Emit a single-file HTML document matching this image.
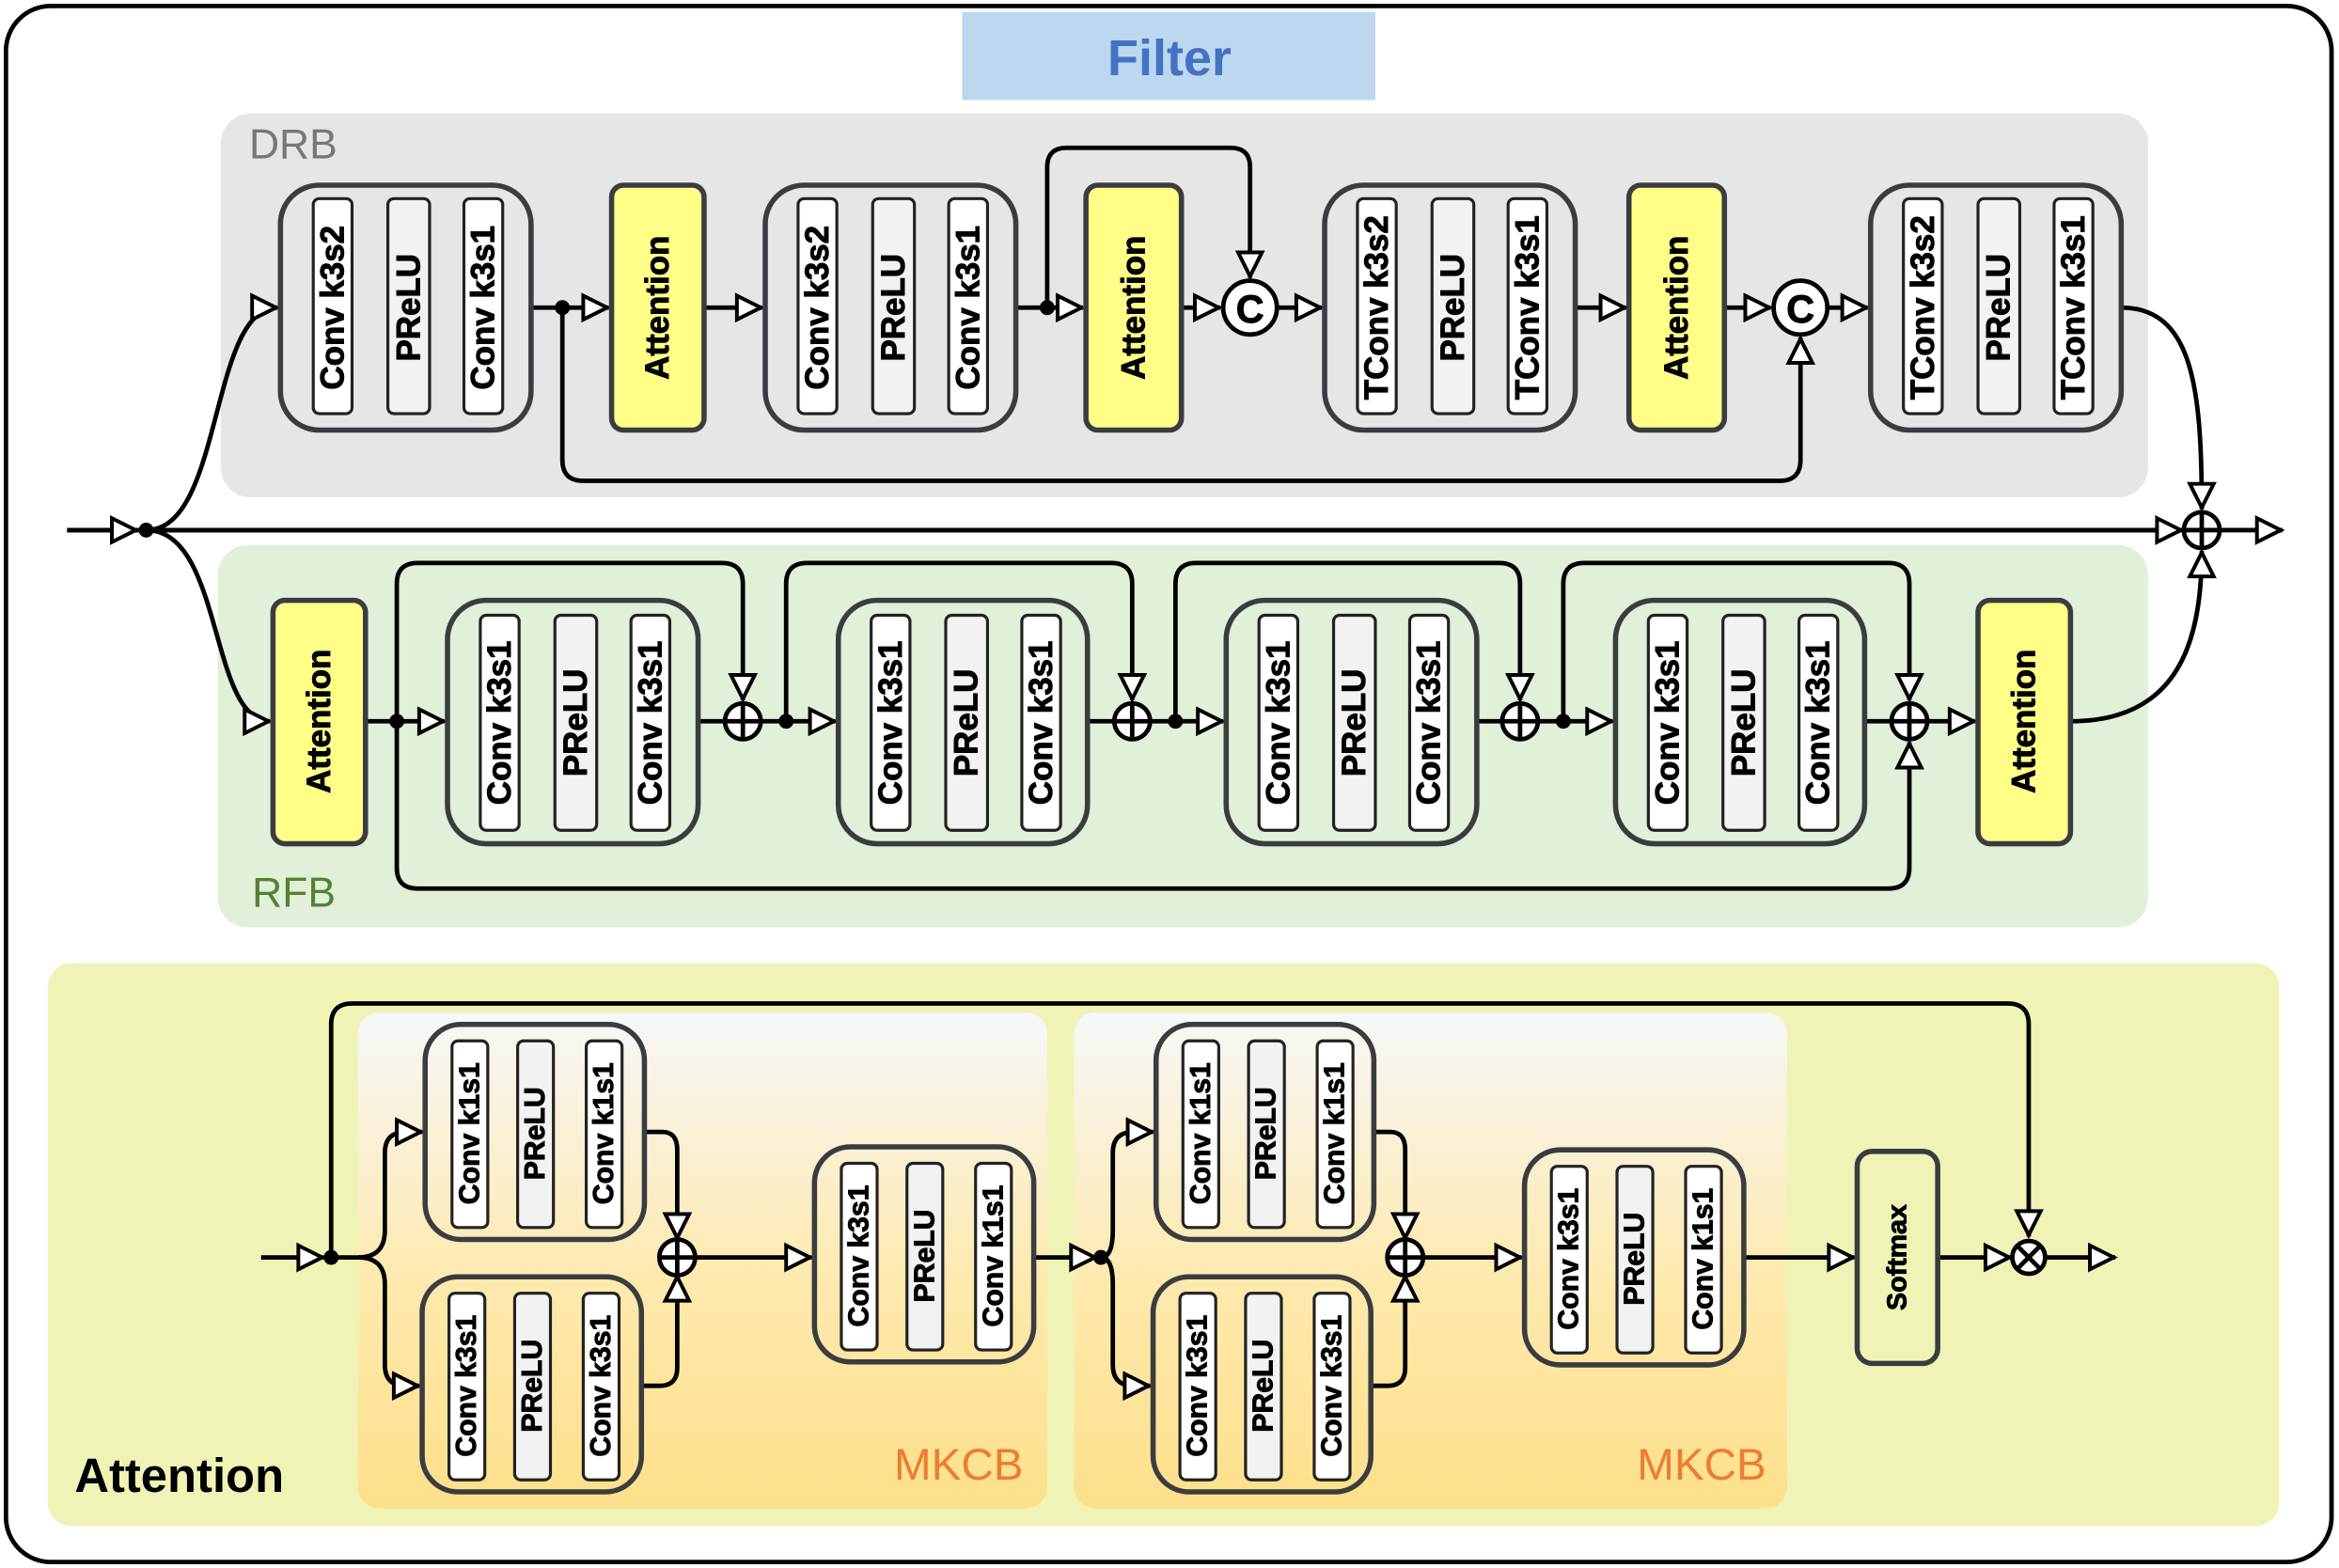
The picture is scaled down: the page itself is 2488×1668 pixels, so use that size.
<!DOCTYPE html>
<html><head><meta charset="utf-8"><style>
html,body{margin:0;padding:0;background:#fff}
svg{display:block}
.t{font-family:"Liberation Sans",sans-serif;font-weight:bold;fill:#000;stroke:#000;stroke-width:0.6;text-anchor:middle;dominant-baseline:central}
.box{fill:none;stroke:#3a3c40;stroke-width:3.5}
.pw{fill:#fff;stroke:#222;stroke-width:2}
.pg{fill:#f2f2f2;stroke:#222;stroke-width:2}
.ln{fill:none;stroke:#000;stroke-width:3}
.ar{fill:none;stroke:#000;stroke-width:3;marker-end:url(#a)}
</style></head><body>
<svg width="2488" height="1668" viewBox="0 0 1568 1050" preserveAspectRatio="none" xmlns="http://www.w3.org/2000/svg">
<defs>
<marker id="a" markerUnits="userSpaceOnUse" markerWidth="22" markerHeight="20" refX="17" refY="8" orient="auto" viewBox="-2 -2 22 20"><path d="M0,0 L16,8 L0,16 Z" fill="#fff" stroke="#000" stroke-width="2.5"/></marker>
<linearGradient id="g" x1="0" y1="0" x2="0" y2="1"><stop offset="0" stop-color="#f6f7f8"/><stop offset="0.55" stop-color="#fee9ad"/><stop offset="1" stop-color="#fde08a"/></linearGradient>
</defs>
<rect x="4" y="4" width="1559" height="1042" rx="30" fill="#fff" stroke="#000" stroke-width="3"/>
<rect x="645" y="8" width="277" height="59" fill="#bdd7ee"/>
<text x="784" y="39" style="font-family:'Liberation Sans',sans-serif;font-size:34px;font-weight:bold;fill:#4472c4;text-anchor:middle" dominant-baseline="central">Filter</text>

<!-- DRB -->
<rect x="148" y="76" width="1292" height="257" rx="20" fill="#e6e6e6"/>
<text x="167" y="97" style="font-family:'Liberation Sans',sans-serif;font-size:28px;fill:#777" dominant-baseline="central">DRB</text>
<!-- RFB -->
<rect x="146" y="365" width="1294" height="256" rx="20" fill="#e2efd9"/>
<text x="169" y="598" style="font-family:'Liberation Sans',sans-serif;font-size:28px;fill:#548235" dominant-baseline="central">RFB</text>
<!-- Attention section -->
<rect x="32" y="645" width="1496" height="377" rx="16" fill="#eff4b6"/>
<text x="50" y="988" style="font-family:'Liberation Sans',sans-serif;font-size:32px;font-weight:bold;fill:#000" dominant-baseline="central">Attention</text>
<rect x="240" y="678" width="462" height="332" rx="14" fill="url(#g)"/>
<rect x="720" y="678" width="478" height="332" rx="14" fill="url(#g)"/>
<text x="686" y="981" style="font-family:'Liberation Sans',sans-serif;font-size:30px;fill:#ed7d31;text-anchor:end" dominant-baseline="central">MKCB</text>
<text x="1184" y="981" style="font-family:'Liberation Sans',sans-serif;font-size:30px;fill:#ed7d31;text-anchor:end" dominant-baseline="central">MKCB</text>

<!-- DRB connectors -->
<path class="ln" d="M45,355 H1460"/>
<path class="ar" d="M45,355 H92"/>
<path class="ar" d="M98,355 H1463"/>
<path class="ar" d="M1488,355 H1530"/>
<circle cx="98" cy="355" r="5"/>
<path class="ar" d="M98,355 C150,355 140,206 186,206"/>
<path class="ar" d="M98,355 C150,355 140,483 181,483"/>
<path class="ar" d="M356,206 H408"/>
<circle cx="377" cy="206" r="5"/>
<path class="ar" d="M472,206 H511"/>
<path class="ar" d="M681,206 H726"/>
<circle cx="702" cy="206" r="5"/>
<path class="ar" d="M702,206 V112 Q702,99 715,99 H825 Q838,99 838,112 V186"/>
<path class="ar" d="M792,206 H818"/>
<path class="ar" d="M856,206 H886"/>
<path class="ar" d="M1056,206 H1090"/>
<path class="ar" d="M1156,206 H1187"/>
<path class="ar" d="M1225,206 H1252"/>
<path class="ar" d="M377,206 V308 Q377,322 391,322 H1193 Q1207,322 1207,308 V226"/>
<path class="ar" d="M1422,206 C1470,206 1476,260 1476,341"/>
<path class="ar" d="M1388,483 C1460,483 1476,430 1476,369"/>
<circle cx="838" cy="206" r="18" fill="#fff" stroke="#000" stroke-width="3"/>
<text x="838" y="207" class="t" style="font-size:26px">C</text>
<circle cx="1207" cy="206" r="18" fill="#fff" stroke="#000" stroke-width="3"/>
<text x="1207" y="207" class="t" style="font-size:26px">C</text>
<circle cx="1476" cy="355" r="12" fill="#fff" stroke="#000" stroke-width="3"/>
<path class="ln" d="M1464,355 H1488 M1476,343 V367"/>

<!-- DRB blocks -->
<rect x="410" y="124" width="62" height="164" rx="8" fill="#ffff88" stroke="#3a3c40" stroke-width="3.5"/>
<text class="t" style="font-size:22px" transform="translate(441,206) rotate(-90)">Attention</text>
<rect x="728" y="124" width="64" height="164" rx="8" fill="#ffff88" stroke="#3a3c40" stroke-width="3.5"/>
<text class="t" style="font-size:22px" transform="translate(760,206) rotate(-90)">Attention</text>
<rect x="1092" y="124" width="64" height="164" rx="8" fill="#ffff88" stroke="#3a3c40" stroke-width="3.5"/>
<text class="t" style="font-size:22px" transform="translate(1124,206) rotate(-90)">Attention</text>

<g style="font-size:22px">
<rect class="box" x="188" y="124" width="168" height="164" rx="26"/>
<rect class="pw" x="210" y="133" width="26" height="144" rx="4"/><rect class="pg" x="260" y="133" width="28" height="144" rx="4"/><rect class="pw" x="311" y="133" width="26" height="144" rx="4"/>
<text class="t" transform="translate(223,206) rotate(-90)">Conv k3s2</text><text class="t" transform="translate(274,206) rotate(-90)">PReLU</text><text class="t" transform="translate(324,206) rotate(-90)">Conv k3s1</text>

<rect class="box" x="513" y="124" width="168" height="164" rx="26"/>
<rect class="pw" x="535" y="133" width="26" height="144" rx="4"/><rect class="pg" x="585" y="133" width="28" height="144" rx="4"/><rect class="pw" x="636" y="133" width="26" height="144" rx="4"/>
<text class="t" transform="translate(548,206) rotate(-90)">Conv k3s2</text><text class="t" transform="translate(599,206) rotate(-90)">PReLU</text><text class="t" transform="translate(649,206) rotate(-90)">Conv k3s1</text>

<rect class="box" x="888" y="124" width="168" height="164" rx="26"/>
<rect class="pw" x="910" y="133" width="26" height="144" rx="4"/><rect class="pg" x="960" y="133" width="28" height="144" rx="4"/><rect class="pw" x="1011" y="133" width="26" height="144" rx="4"/>
<text class="t" transform="translate(923,206) rotate(-90)">TConv k3s2</text><text class="t" transform="translate(974,206) rotate(-90)">PReLU</text><text class="t" transform="translate(1024,206) rotate(-90)">TConv k3s1</text>

<rect class="box" x="1254" y="124" width="168" height="164" rx="26"/>
<rect class="pw" x="1276" y="133" width="26" height="144" rx="4"/><rect class="pg" x="1326" y="133" width="28" height="144" rx="4"/><rect class="pw" x="1377" y="133" width="26" height="144" rx="4"/>
<text class="t" transform="translate(1289,206) rotate(-90)">TConv k3s2</text><text class="t" transform="translate(1340,206) rotate(-90)">PReLU</text><text class="t" transform="translate(1390,206) rotate(-90)">TConv k3s1</text>
</g>

<!-- RFB connectors -->
<path class="ar" d="M245,483 H298"/>
<circle cx="266" cy="483" r="5"/>
<path class="ar" d="M266,483 V391 Q266,377 280,377 H484 Q498,377 498,391 V469"/>
<path class="ar" d="M266,483 V581 Q266,595 280,595 H1266 Q1280,595 1280,581 V497"/>
<path class="ln" d="M468,483 H486"/>
<path class="ar" d="M510,483 H560"/>
<circle cx="527" cy="483" r="5"/>
<path class="ar" d="M527,483 V391 Q527,377 541,377 H745 Q759,377 759,391 V469"/>
<path class="ln" d="M729,483 H747"/>
<path class="ar" d="M771,483 H820"/>
<circle cx="788" cy="483" r="5"/>
<path class="ar" d="M788,483 V391 Q788,377 802,377 H1005 Q1019,377 1019,391 V469"/>
<path class="ln" d="M990,483 H1007"/>
<path class="ar" d="M1031,483 H1081"/>
<circle cx="1048" cy="483" r="5"/>
<path class="ar" d="M1048,483 V391 Q1048,377 1062,377 H1266 Q1280,377 1280,391 V469"/>
<path class="ln" d="M1250,483 H1268"/>
<path class="ar" d="M1292,483 H1324"/>
<g fill="#fff" stroke="#000" stroke-width="3">
<circle cx="498" cy="483" r="12"/><circle cx="759" cy="483" r="12"/><circle cx="1019" cy="483" r="12"/><circle cx="1280" cy="483" r="12"/>
</g>
<path class="ln" d="M486,483 H510 M498,471 V495 M747,483 H771 M759,471 V495 M1007,483 H1031 M1019,471 V495 M1268,483 H1292 M1280,471 V495"/>

<rect x="183" y="402" width="62" height="163" rx="8" fill="#ffff88" stroke="#3a3c40" stroke-width="3.5"/>
<text class="t" style="font-size:22px" transform="translate(214,483) rotate(-90)">Attention</text>
<rect x="1326" y="402" width="62" height="163" rx="8" fill="#ffff88" stroke="#3a3c40" stroke-width="3.5"/>
<text class="t" style="font-size:22px" transform="translate(1357,483) rotate(-90)">Attention</text>

<g style="font-size:22px">
<rect class="box" x="300" y="402" width="168" height="163" rx="26"/>
<rect class="pw" x="322" y="412" width="26" height="144" rx="4"/><rect class="pg" x="372" y="412" width="28" height="144" rx="4"/><rect class="pw" x="423" y="412" width="26" height="144" rx="4"/>
<text class="t" transform="translate(335,484) rotate(-90)">Conv k3s1</text><text class="t" transform="translate(386,484) rotate(-90)">PReLU</text><text class="t" transform="translate(436,484) rotate(-90)">Conv k3s1</text>

<rect class="box" x="562" y="402" width="167" height="163" rx="26"/>
<rect class="pw" x="584" y="412" width="26" height="144" rx="4"/><rect class="pg" x="634" y="412" width="28" height="144" rx="4"/><rect class="pw" x="685" y="412" width="26" height="144" rx="4"/>
<text class="t" transform="translate(597,484) rotate(-90)">Conv k3s1</text><text class="t" transform="translate(648,484) rotate(-90)">PReLU</text><text class="t" transform="translate(698,484) rotate(-90)">Conv k3s1</text>

<rect class="box" x="822" y="402" width="168" height="163" rx="26"/>
<rect class="pw" x="844" y="412" width="26" height="144" rx="4"/><rect class="pg" x="894" y="412" width="28" height="144" rx="4"/><rect class="pw" x="945" y="412" width="26" height="144" rx="4"/>
<text class="t" transform="translate(857,484) rotate(-90)">Conv k3s1</text><text class="t" transform="translate(908,484) rotate(-90)">PReLU</text><text class="t" transform="translate(958,484) rotate(-90)">Conv k3s1</text>

<rect class="box" x="1083" y="402" width="167" height="163" rx="26"/>
<rect class="pw" x="1105" y="412" width="26" height="144" rx="4"/><rect class="pg" x="1155" y="412" width="28" height="144" rx="4"/><rect class="pw" x="1206" y="412" width="26" height="144" rx="4"/>
<text class="t" transform="translate(1118,484) rotate(-90)">Conv k3s1</text><text class="t" transform="translate(1169,484) rotate(-90)">PReLU</text><text class="t" transform="translate(1219,484) rotate(-90)">Conv k3s1</text>
</g>

<!-- Attention section connectors -->
<path class="ar" d="M175,842 H217"/>
<circle cx="222" cy="842" r="5"/>
<path class="ar" d="M222,842 V686 Q222,672 236,672 H1346 Q1360,672 1360,686 V828"/>
<path class="ln" d="M222,842 H240"/>
<path class="ar" d="M240,842 Q258,842 258,824 V772 Q258,758 272,758 H283"/>
<path class="ar" d="M240,842 Q258,842 258,860 V914 Q258,928 272,928 H281"/>
<path class="ar" d="M432,758 H444 Q454,758 454,770 V830"/>
<path class="ar" d="M430,928 H442 Q454,928 454,916 V854"/>
<path class="ar" d="M466,842 H544"/>
<path class="ar" d="M693,842 H735"/>
<circle cx="738" cy="842" r="5"/>
<path class="ar" d="M738,842 Q746,842 746,824 V772 Q746,758 760,758 H773"/>
<path class="ar" d="M738,842 Q746,842 746,860 V914 Q746,928 760,928 H771"/>
<path class="ar" d="M921,758 H932 Q942,758 942,770 V830"/>
<path class="ar" d="M919,928 H930 Q942,928 942,916 V854"/>
<path class="ar" d="M954,842 H1020"/>
<path class="ar" d="M1169,842 H1243"/>
<path class="ar" d="M1299,842 H1348"/>
<path class="ar" d="M1372,842 H1418"/>
<g fill="#fff" stroke="#000" stroke-width="3">
<circle cx="454" cy="842" r="12"/><circle cx="942" cy="842" r="12"/><circle cx="1360" cy="842" r="11"/>
</g>
<path class="ln" d="M442,842 H466 M454,830 V854 M930,842 H954 M942,830 V854 M1352,834 L1368,850 M1368,834 L1352,850"/>

<g style="font-size:19px">
<rect class="box" x="285" y="686" width="147" height="144" rx="24"/>
<rect class="pw" x="303" y="697" width="24" height="125" rx="4"/><rect class="pg" x="347" y="697" width="24" height="125" rx="4"/><rect class="pw" x="393" y="697" width="24" height="125" rx="4"/>
<text class="t" transform="translate(315,759) rotate(-90)">Conv k1s1</text><text class="t" transform="translate(359,759) rotate(-90)">PReLU</text><text class="t" transform="translate(405,759) rotate(-90)">Conv k1s1</text>

<rect class="box" x="283" y="855" width="147" height="144" rx="24"/>
<rect class="pw" x="301" y="866" width="24" height="125" rx="4"/><rect class="pg" x="345" y="866" width="24" height="125" rx="4"/><rect class="pw" x="391" y="866" width="24" height="125" rx="4"/>
<text class="t" transform="translate(313,928) rotate(-90)">Conv k3s1</text><text class="t" transform="translate(357,928) rotate(-90)">PReLU</text><text class="t" transform="translate(403,928) rotate(-90)">Conv k3s1</text>

<rect class="box" x="546" y="768" width="147" height="144" rx="24"/>
<rect class="pw" x="564" y="779" width="24" height="125" rx="4"/><rect class="pg" x="608" y="779" width="24" height="125" rx="4"/><rect class="pw" x="654" y="779" width="24" height="125" rx="4"/>
<text class="t" transform="translate(576,841) rotate(-90)">Conv k3s1</text><text class="t" transform="translate(620,841) rotate(-90)">PReLU</text><text class="t" transform="translate(666,841) rotate(-90)">Conv k1s1</text>

<rect class="box" x="775" y="686" width="146" height="144" rx="24"/>
<rect class="pw" x="793" y="697" width="24" height="125" rx="4"/><rect class="pg" x="837" y="697" width="24" height="125" rx="4"/><rect class="pw" x="883" y="697" width="24" height="125" rx="4"/>
<text class="t" transform="translate(805,759) rotate(-90)">Conv k1s1</text><text class="t" transform="translate(849,759) rotate(-90)">PReLU</text><text class="t" transform="translate(895,759) rotate(-90)">Conv k1s1</text>

<rect class="box" x="773" y="855" width="146" height="144" rx="24"/>
<rect class="pw" x="791" y="866" width="24" height="125" rx="4"/><rect class="pg" x="835" y="866" width="24" height="125" rx="4"/><rect class="pw" x="881" y="866" width="24" height="125" rx="4"/>
<text class="t" transform="translate(803,928) rotate(-90)">Conv k3s1</text><text class="t" transform="translate(847,928) rotate(-90)">PReLU</text><text class="t" transform="translate(893,928) rotate(-90)">Conv k3s1</text>

<rect class="box" x="1022" y="770" width="147" height="144" rx="24"/>
<rect class="pw" x="1040" y="781" width="24" height="125" rx="4"/><rect class="pg" x="1084" y="781" width="24" height="125" rx="4"/><rect class="pw" x="1130" y="781" width="24" height="125" rx="4"/>
<text class="t" transform="translate(1052,843) rotate(-90)">Conv k3s1</text><text class="t" transform="translate(1096,843) rotate(-90)">PReLU</text><text class="t" transform="translate(1142,843) rotate(-90)">Conv k1s1</text>

<rect x="1245" y="771" width="54" height="142" rx="10" fill="none" stroke="#3a3c40" stroke-width="3.5"/>
<text class="t" style="font-size:18px" transform="translate(1272,842) rotate(-90)">Softmax</text>
</g>
</svg>
</body></html>
